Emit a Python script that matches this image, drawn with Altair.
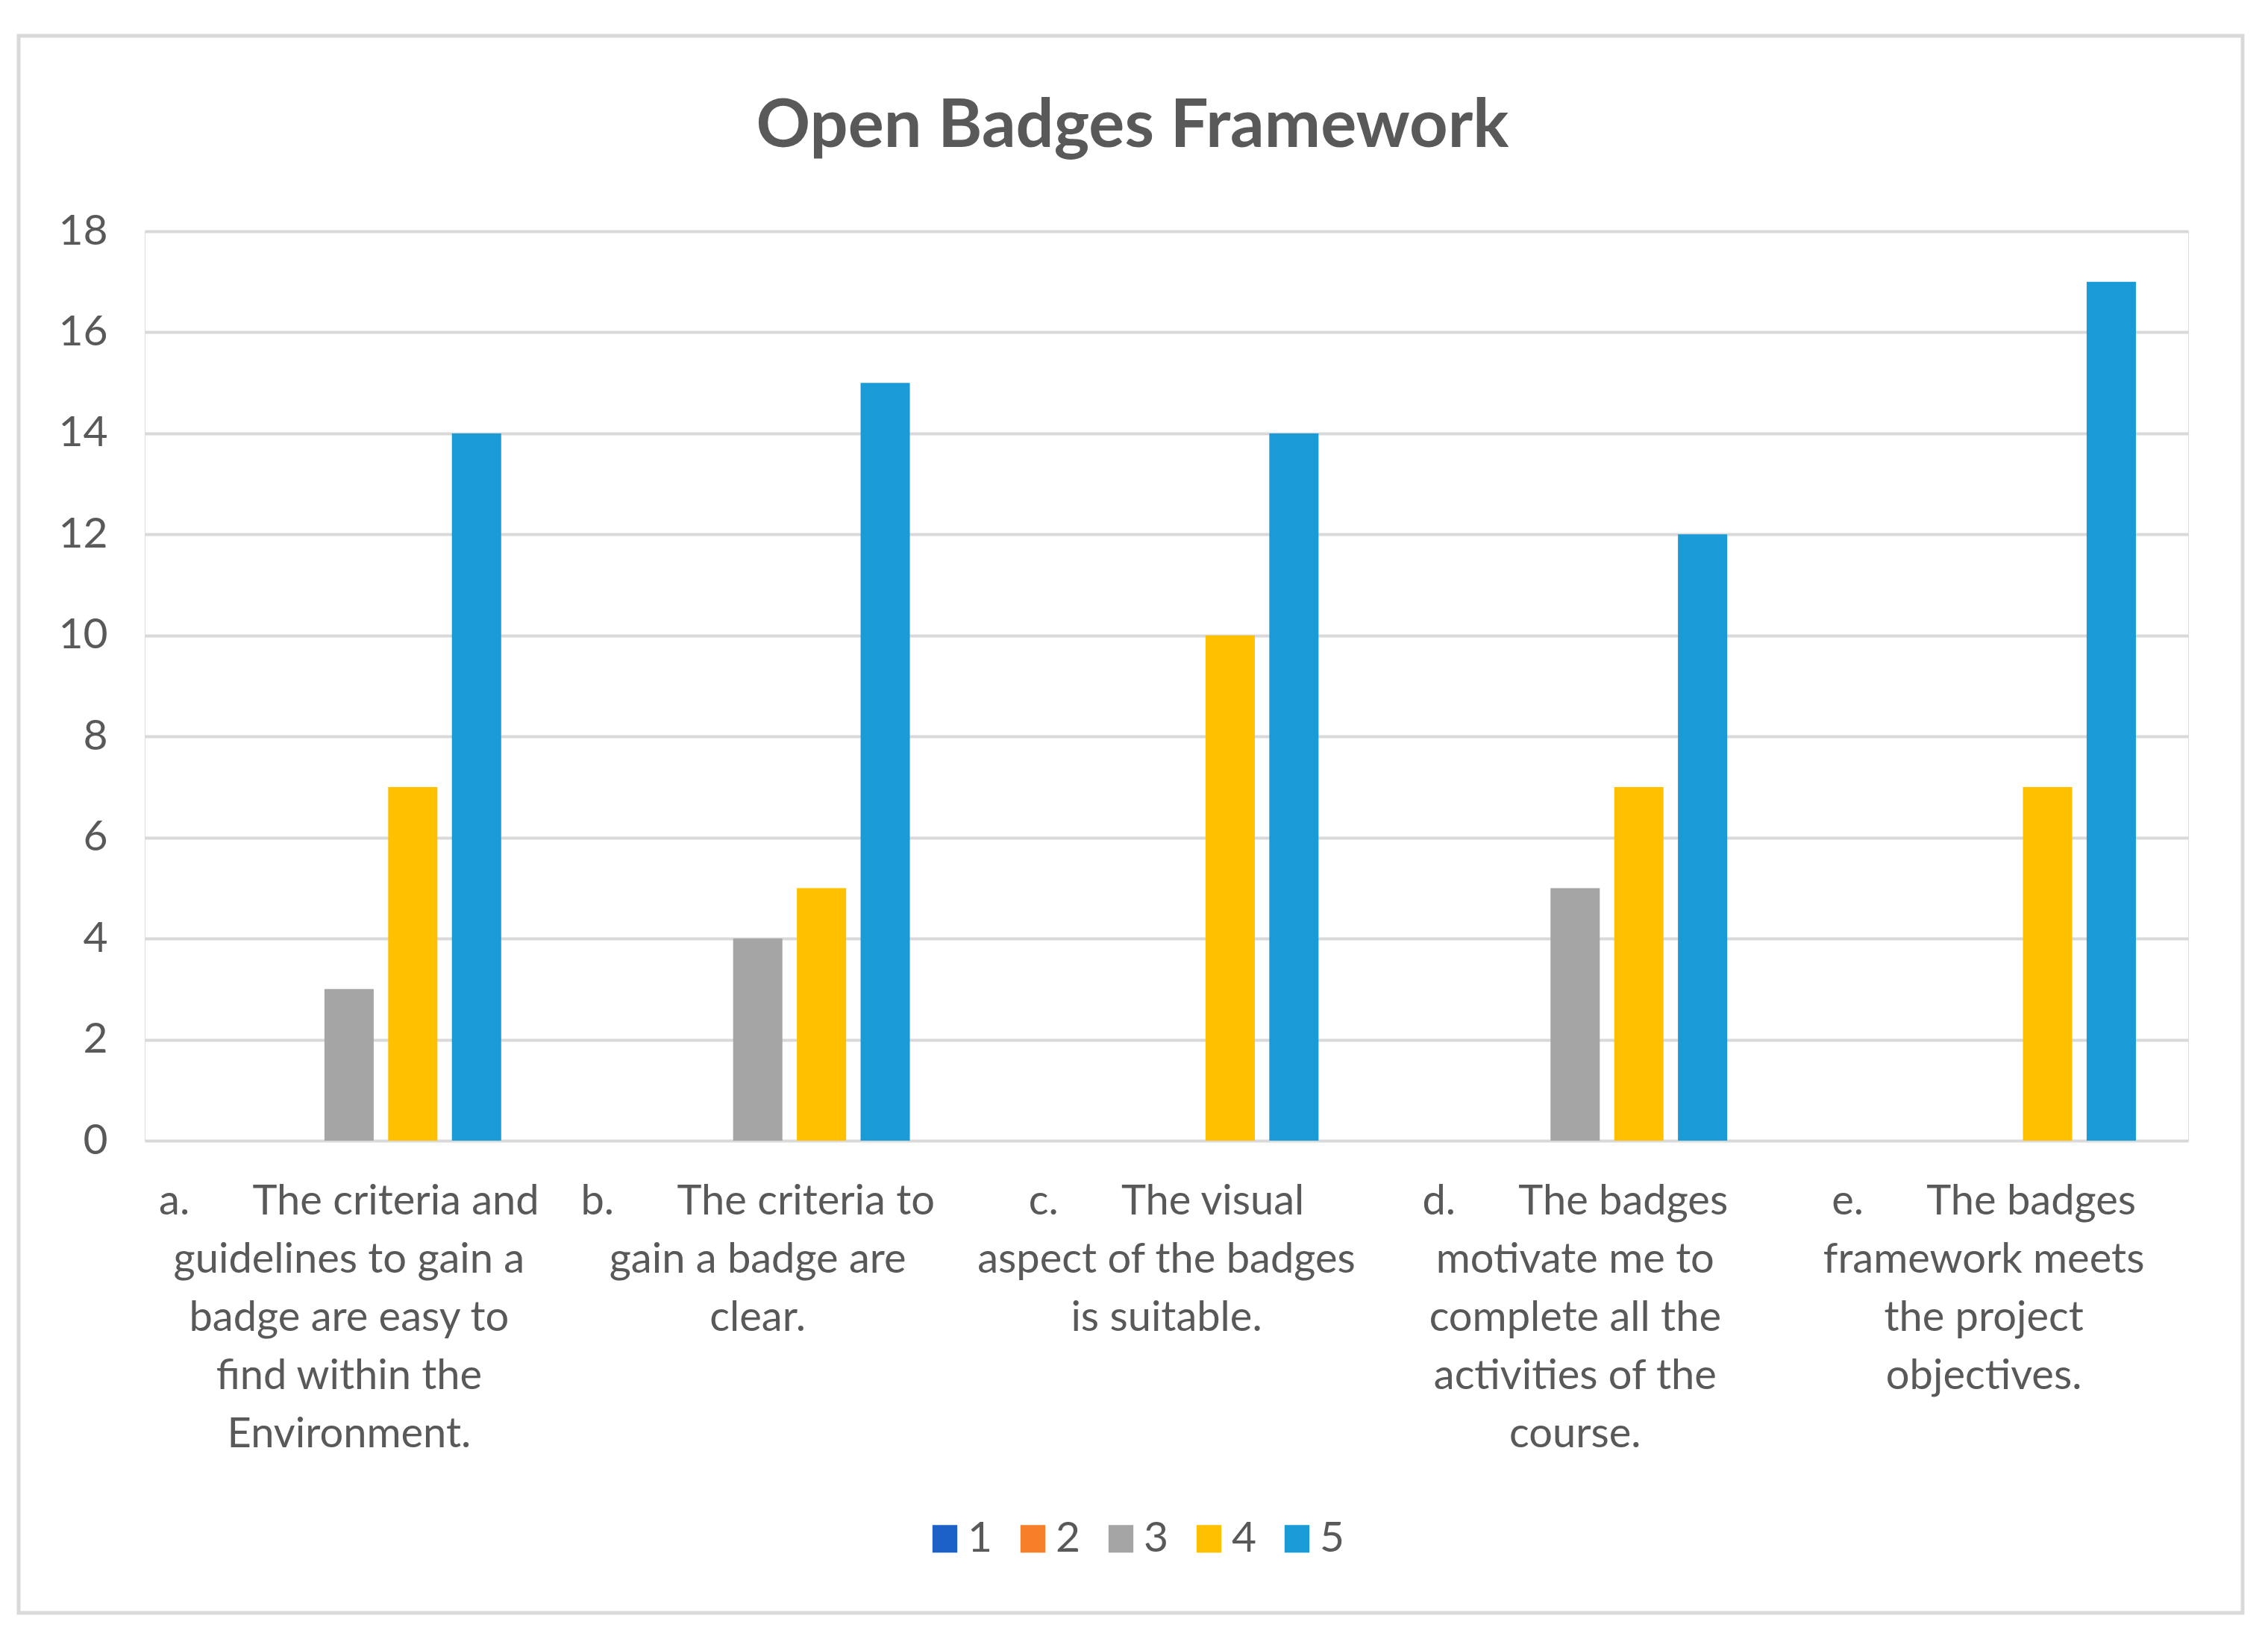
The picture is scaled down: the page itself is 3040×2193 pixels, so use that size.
import altair as alt
import pandas as pd

NB = "\u00a0" * 6
categories = [
    "a." + NB + "The criteria and|guidelines to gain a|badge are easy to|find within the|Environment.",
    "b." + NB + "The criteria to|gain a badge are|clear.",
    "c." + NB + "The visual|aspect of the badges|is suitable.",
    "d." + NB + "The badges|motivate me to|complete all the|activities of the|course.",
    "e." + NB + "The badges|framework meets|the project|objectives.",
]
series = ["1", "2", "3", "4", "5"]
s1 = [0, 0, 0, 0, 0]
s2 = [0, 0, 0, 0, 0]
s3 = [3, 4, 0, 5, 0]
s4 = [7, 5, 10, 7, 7]
s5 = [14, 15, 14, 12, 17]
colors = ["#1C61C8", "#F77F2A", "#A5A5A5", "#FFC000", "#1A9BD7"]
y_ticks = [0, 2, 4, 6, 8, 10, 12, 14, 16, 18]
title_text = "Open Badges Framework"

rows = []
for name, vals in zip(series, [s1, s2, s3, s4, s5]):
    for cat, v in zip(categories, vals):
        rows.append({"cat": cat, "series": name, "value": v})
df = pd.DataFrame(rows)

FONT = "Lato"
TXT = "#595959"
GRID = "#D9D9D9"

bars = alt.Chart(df).mark_bar().encode(
    x=alt.X("cat:N", sort=categories, title=None,
            scale=alt.Scale(paddingInner=0, paddingOuter=0),
            axis=alt.Axis(labelAngle=0, domain=False, ticks=False,
                          labelExpr="split(datum.label, '|')",
                          labelFontSize=56, labelFont=FONT, labelColor=TXT,
                          labelLineHeight=78, labelPadding=54, labelLimit=0,
                          labelBaseline="top")),
    xOffset=alt.XOffset("series:N", sort=series,
                        scale=alt.Scale(paddingInner=0.227, paddingOuter=0.82)),
    y=alt.Y("value:Q", title=None,
            scale=alt.Scale(domain=[0, 18], nice=False),
            axis=alt.Axis(values=y_ticks, domain=False, ticks=False,
                          gridColor=GRID, gridWidth=4,
                          labelFontSize=57, labelFont=FONT, labelColor=TXT,
                          labelPadding=50)),
    color=alt.Color("series:N", sort=series,
                    scale=alt.Scale(domain=series, range=colors),
                    legend=alt.Legend(title=None, orient="none", direction="horizontal",
                                      legendX=1044, legendY=1724, padding=0,
                                      symbolType="M-0.9,-1H0.9V1H-0.9Z",
                                      symbolSize=1369, symbolStrokeWidth=0,
                                      labelFontSize=57, labelFont=FONT, labelColor=TXT,
                                      labelOffset=2, columnPadding=25)),
)

frame = alt.Chart(alt.Data(values=[{"k": 1}])).mark_rect(
    fill=None, stroke=GRID, strokeWidth=5
).encode(
    x=alt.value(-169), x2=alt.value(2812),
    y=alt.value(-262), y2=alt.value(1852),
)

title = alt.Chart(alt.Data(values=[{"t": title_text}])).mark_text(
    font=FONT, fontSize=90, fontWeight="bold", color=TXT,
    align="center", baseline="alphabetic"
).encode(
    text="t:N", x=alt.value(1324), y=alt.value(-113),
)

chart = alt.layer(frame, bars, title).properties(
    width=2739, height=1219,
    autosize=alt.AutoSizeParams(type="none"),
    padding={"left": 186, "top": 302, "right": 99, "bottom": 656},
).configure_view(stroke=None).configure(background="white")

chart.save("out.html", embed_options={"renderer": "svg", "actions": False})
